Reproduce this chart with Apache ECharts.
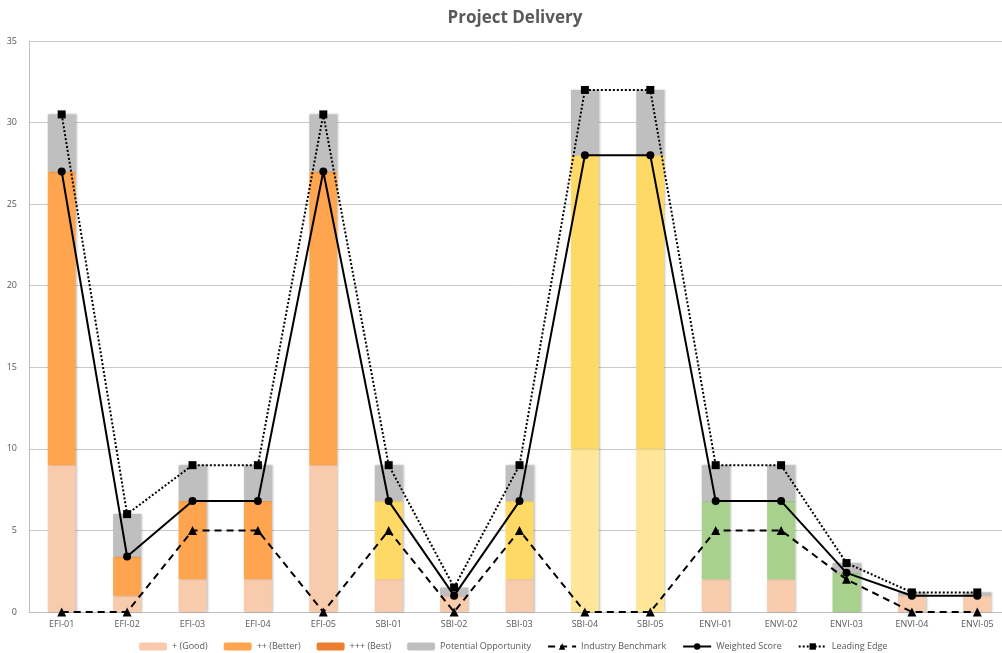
<!DOCTYPE html>
<html><head><meta charset="utf-8">
<script src="https://cdn.jsdelivr.net/npm/echarts@6/dist/echarts.min.js"></script>
<style>html,body{margin:0;padding:0;background:#fff;overflow:hidden}#c{width:1010px;height:653px}</style>
</head><body><div id="c"></div>
<script>
var categories = ['EFI-01','EFI-02','EFI-03','EFI-04','EFI-05','SBI-01','SBI-02','SBI-03','SBI-04','SBI-05','ENVI-01','ENVI-02','ENVI-03','ENVI-04','ENVI-05'];
var groups = ['EFI','EFI','EFI','EFI','EFI','SBI','SBI','SBI','SBI4','SBI4','ENVI','ENVI','ENVI','ENVI','ENVI'];
var good = [9,1,2,2,9,2,1,2,10,10,2,2,0,1,1];
var better = [18,2.4,4.8,4.8,18,4.8,0,4.8,18,18,4.8,4.8,2.4,0,0];
var best = [0,0,0,0,0,0,0,0,0,0,0,0,0,0,0];
var weighted = [27,3.4,6.8,6.8,27,6.8,1,6.8,28,28,6.8,6.8,2.4,1,1];
var leading = [30.5,6,9,9,30.5,9,1.5,9,32,32,9,9,3,1.2,1.2];
var benchmark = [0,0,5,5,0,5,0,5,0,0,5,5,2,0,0];
var yTicks = [0,5,10,15,20,25,30,35];

var goodColors = {EFI:'#F8CBAD',SBI:'#F8CBAD',SBI4:'#FFE699',ENVI:'#F8CBAD'};
var betterColors = {EFI:'#FFA54F',SBI:'#FFD966',SBI4:'#FFD966',ENVI:'#A9D18E'};
var potential = leading.map(function(v,i){return Math.round((v-weighted[i])*100)/100;});

var barShadow = {shadowBlur:2, shadowColor:'rgba(0,0,0,0.25)', shadowOffsetX:1, shadowOffsetY:0};
function colored(arr, map){
  return arr.map(function(v,i){return {value:v,itemStyle:Object.assign({color:map[groups[i]]},barShadow)};});
}
var chart = echarts.init(document.getElementById('c'));
chart.setOption({
  animation:false,
  title:{text:'Project Delivery',left:510,top:5,textAlign:'center',
    textStyle:{fontFamily:'Open Sans',fontSize:17,fontWeight:'bold',color:'#595959'}},
  grid:{left:29,right:0,top:41,bottom:41,containLabel:false,outerBoundsMode:'none'},
  legend:{bottom:-3,left:134,itemGap:16,itemWidth:28,itemHeight:8,
    textStyle:{fontFamily:'Open Sans',fontSize:9,color:'#595959'},
    data:[
      {name:'+ (Good)',itemStyle:{color:'#F8CBAD'}},
      {name:'++ (Better)',itemStyle:{color:'#FFA54F'}},
      {name:'+++ (Best)',itemStyle:{color:'#ED7D31'}},
      {name:'Potential Opportunity',itemStyle:{color:'#BFBFBF'}},
      'Industry Benchmark','Weighted Score','Leading Edge']},
  xAxis:{type:'category',data:categories,
    axisLine:{lineStyle:{color:'#BFBFBF'}},axisTick:{show:false},
    axisLabel:{fontFamily:'Open Sans',fontSize:9,color:'#595959',margin:8}},
  yAxis:{type:'value',min:0,max:35,interval:5,
    axisLine:{show:true,lineStyle:{color:'#BFBFBF'}},
    splitLine:{lineStyle:{color:'#C8C8C8'}},
    axisLabel:{fontFamily:'Open Sans',fontSize:9,color:'#595959',margin:12,
      formatter:function(v){return yTicks.indexOf(v)>=0?String(v):'';}}},
  series:[
    {name:'+ (Good)',type:'bar',stack:'s',barWidth:28,data:colored(good,goodColors)},
    {name:'++ (Better)',type:'bar',stack:'s',data:colored(better,betterColors)},
    {name:'+++ (Best)',type:'bar',stack:'s',itemStyle:{color:'#ED7D31'},data:best},
    {name:'Potential Opportunity',type:'bar',stack:'s',itemStyle:Object.assign({color:'#BFBFBF'},barShadow),data:potential},
    {name:'Industry Benchmark',type:'line',data:benchmark,symbol:'triangle',symbolSize:9,
      itemStyle:{color:'#000'},lineStyle:{color:'#000',width:2,type:[7,5]},z:5},
    {name:'Weighted Score',type:'line',data:weighted,symbol:'circle',symbolSize:8,
      itemStyle:{color:'#000'},lineStyle:{color:'#000',width:2},z:6},
    {name:'Leading Edge',type:'line',data:leading,symbol:'rect',symbolSize:8,
      itemStyle:{color:'#000'},lineStyle:{color:'#000',width:2,type:[2,2]},z:7}
  ]
});
</script></body></html>
